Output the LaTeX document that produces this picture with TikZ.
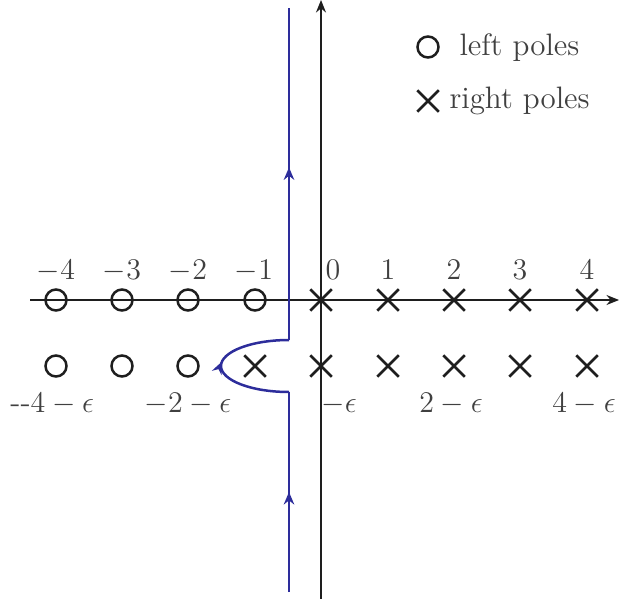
\documentclass[tikz,border=0pt]{standalone}
\usetikzlibrary{arrows.meta,shapes.misc,decorations.markings}
\definecolor{contourblue}{RGB}{45,45,155}
\definecolor{ink}{RGB}{30,30,30}
\begin{document}
\begin{tikzpicture}[x=0.4pt,y=-0.4pt,
  font=\fontsize{12.4}{14}\selectfont,
  lpole/.style={circle,draw=ink,line width=1pt,minimum size=8.4pt,inner sep=0pt},
  rpole/.style={cross out,draw=ink,line width=1pt,minimum size=7.6pt,inner sep=0pt},
  axisline/.style={draw=ink,line width=0.5pt,-{Stealth[length=5pt,width=4pt]}},
  contourline/.style={draw=contourblue,line width=1pt},
  midarrow/.style={postaction={decorate},decoration={markings,
    mark=at position #1 with {\arrow[contourblue]{Stealth[length=5pt,width=4.2pt]}}}},
  lab/.style={anchor=base,text=ink!85,inner sep=0pt}]
\useasboundingbox (0,0) rectangle (619,599);
% axes
\coordinate (xs) at (30,300);
\coordinate (xe) at (619,300);
\coordinate (ys) at (321,599);
\coordinate (ye) at (321,0);
\draw[axisline] (xs) -- (xe);
\draw[axisline] (ys) -- (ye);
% contour
\coordinate (cb) at (289,592);
\coordinate (c1) at (289,392);
\coordinate (c2) at (289,340);
\coordinate (ct) at (289,8);
\coordinate (cl) at (221,366);
\draw[contourline,midarrow=0.5] (cb) -- (c1);
\draw[contourline,midarrow=0.53] (c1) .. controls (251.5,392) and (221,380.4) .. (cl)
  .. controls (221,351.6) and (251.5,340) .. (c2);
\draw[contourline,midarrow=0.52] (c2) -- (ct);
% upper row
\foreach \n/\x in {a4/56,a3/122,a2/188,a1/255}
  \node[lpole] (u\n) at (\x,300) {};
\foreach \n/\x in {b0/321,b1/388,b2/454,b3/520,b4/587}
  \node[rpole] (u\n) at (\x,300) {};
% lower row
\foreach \n/\x in {a4/56,a3/122,a2/188}
  \node[lpole] (l\n) at (\x,366) {};
\foreach \n/\x in {a1/255,b0/321,b1/388,b2/454,b3/520,b4/587}
  \node[rpole] (l\n) at (\x,366) {};
% upper labels
\node[lab] (t1) at (56,279) {$-4$};
\node[lab] (t2) at (122,279) {$-3$};
\node[lab] (t3) at (188,279) {$-2$};
\node[lab] (t4) at (254,279) {$-1$};
\node[lab] (t5) at (333,279) {$0$};
\node[lab] (t6) at (388,279) {$1$};
\node[lab] (t7) at (454,279) {$2$};
\node[lab] (t8) at (520,279) {$3$};
\node[lab] (t9) at (587,279) {$4$};
% lower labels
\node[lab,anchor=base west] (s1) at (10,412) {{-}{-}$4-\epsilon$};
\node[lab] (s2) at (188,412) {$-2-\epsilon$};
\node[lab,anchor=base west] (s3) at (321,412) {$-\epsilon$};
\node[lab] (s4) at (451,412) {$2-\epsilon$};
\node[lab] (s5) at (584,412) {$4-\epsilon$};
% legend
\node[lpole] (lg1) at (428,47) {};
\node[rpole] (lg2) at (428,101) {};
\node[lab,anchor=base west] (lt1) at (459,56) {left poles};
\node[lab,anchor=base west] (lt2) at (449,109) {right poles};
\end{tikzpicture}
\end{document}
